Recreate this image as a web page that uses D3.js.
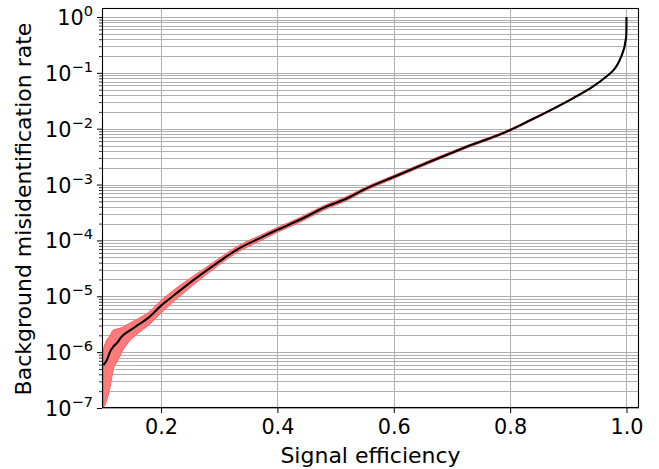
<!DOCTYPE html>
<html>
<head>
<meta charset="utf-8">
<script src="https://cdn.jsdelivr.net/npm/d3@7"></script>
<style>
  html, body { margin: 0; padding: 0; background: #fff; }
  svg { display: block; }
  text { font-family: "DejaVu Sans", sans-serif; fill: #000; }
</style>
</head>
<body>
<svg id="chart" width="659" height="469"></svg>
<script>
// ---- data ----
const efficiency = [0.101, 0.1068, 0.1124, 0.118, 0.124, 0.1325, 0.144, 0.161, 0.178, 0.2, 0.22, 0.2555, 0.2956, 0.33, 0.37, 0.4, 0.4386, 0.4787, 0.5245, 0.5473, 0.6005, 0.6618, 0.719, 0.8009, 0.8336, 0.868, 0.9078, 0.942, 0.965, 0.975, 0.9823, 0.987, 0.991, 0.994, 0.9966, 0.998, 0.9995, 0.9999, 1.0];
const misidRate = [5.9e-7, 7.2e-7, 1.02e-6, 1.26e-6, 1.45e-6, 1.9e-6, 2.35e-6, 3.1e-6, 4.1e-6, 6.8e-6, 1.0e-5, 1.95e-5, 3.9e-5, 6.8e-5, 1.10e-4, 1.55e-4, 2.34e-4, 3.8e-4, 6.0e-4, 8.0e-4, 1.38e-3, 2.57e-3, 4.47e-3, 9.55e-3, 1.40e-2, 2.11e-2, 3.5e-2, 5.65e-2, 8.5e-2, 0.105, 0.129, 0.158, 0.195, 0.24, 0.295, 0.36, 0.447, 0.62, 1.0];
const misidLow  = [1.0e-7, 1.4e-7, 2.4e-7, 5.0e-7, 6.6e-7, 1.0e-6, 1.5e-6, 2.2e-6, 3.0e-6, 5.0e-6, 7.8e-6, 1.6e-5, 3.4e-5, 6.0e-5, 9.8e-5, 1.40e-4, 2.12e-4, 3.45e-4, 5.5e-4, 7.4e-4, 1.29e-3, 2.42e-3, 4.25e-3, 9.15e-3, 1.35e-2, 2.05e-2, 3.42e-2, 5.55e-2, 8.38e-2, 0.1037, 0.1275, 0.1565, 0.1933, 0.238, 0.293, 0.358, 0.445, 0.618, 1.0];
const misidHigh = [1.17e-6, 1.66e-6, 2.0e-6, 2.5e-6, 2.6e-6, 2.75e-6, 3.2e-6, 4.0e-6, 5.1e-6, 8.4e-6, 1.25e-5, 2.3e-5, 4.45e-5, 7.7e-5, 1.23e-4, 1.71e-4, 2.57e-4, 4.15e-4, 6.5e-4, 8.6e-4, 1.47e-3, 2.72e-3, 4.7e-3, 9.95e-3, 1.45e-2, 2.17e-2, 3.58e-2, 5.75e-2, 8.62e-2, 0.1063, 0.1305, 0.1595, 0.1967, 0.242, 0.297, 0.362, 0.449, 0.622, 1.0];
const xTicks = [0.2, 0.4, 0.6, 0.8, 1.0];
const xTickLabels = ["0.2", "0.4", "0.6", "0.8", "1.0"];
const yExponents = [0, -1, -2, -3, -4, -5, -6, -7];
const xLabel = "Signal efficiency";
const yLabel = "Background misidentification rate";

// ---- layout ----
const svg = d3.select("#chart");
const L = 102, R = 639, T = 8, B = 408;
const x = d3.scaleLinear().domain([0.0985, 1.0215]).range([L, R]);
const y = d3.scaleLog().domain([1e-7, Math.pow(10, 0.161)]).range([B, T]);

const rows = efficiency.map((e, i) => ({ e, v: misidRate[i], lo: misidLow[i], hi: misidHigh[i] }));

// minor tick values
const minorVals = [];
for (let p = -7; p <= 0; p++) {
  for (let m = 2; m <= 9; m++) {
    const v = m * Math.pow(10, p);
    if (v <= y.domain()[1]) minorVals.push(v);
  }
}
const majorVals = yExponents.map(p => Math.pow(10, p));

const gridColor = "#b0b0b0";
const grid = svg.append("g");
grid.selectAll("line.ym").data(majorVals.concat(minorVals)).enter().append("line")
  .attr("x1", L).attr("x2", R)
  .attr("y1", d => Math.round(y(d)) + 0.5).attr("y2", d => Math.round(y(d)) + 0.5)
  .attr("stroke", gridColor).attr("stroke-width", 1);
grid.selectAll("line.xg").data(xTicks).enter().append("line")
  .attr("y1", T).attr("y2", B)
  .attr("x1", d => Math.round(x(d)) + 0.5).attr("x2", d => Math.round(x(d)) + 0.5)
  .attr("stroke", gridColor).attr("stroke-width", 1);

svg.append("clipPath").attr("id", "clip").append("rect")
  .attr("x", L).attr("y", T).attr("width", R - L).attr("height", B - T);

const plot = svg.append("g").attr("clip-path", "url(#clip)");
const area = d3.area().curve(d3.curveMonotoneX).x(d => x(d.e)).y0(d => y(d.lo)).y1(d => y(d.hi));
plot.append("path").datum(rows).attr("d", area)
  .attr("fill", "#ff7b7b").attr("stroke", "#ff5e5e").attr("stroke-width", 1);
const line = d3.line().curve(d3.curveMonotoneX).x(d => x(d.e)).y(d => y(d.v));
plot.append("path").datum(rows).attr("d", line)
  .attr("fill", "none").attr("stroke", "#000").attr("stroke-width", 2.1)
  .attr("stroke-linejoin", "round");

svg.append("rect").attr("x", L + 0.5).attr("y", T + 0.5)
  .attr("width", R - L - 1).attr("height", B - T - 1)
  .attr("fill", "none").attr("stroke", "#000").attr("stroke-width", 1.1);

const xAxis = d3.axisBottom(x).tickValues(xTicks).tickSize(5).tickPadding(6)
  .tickFormat((d, i) => xTickLabels[i]);
const gx = svg.append("g").attr("transform", `translate(0,${B})`).call(xAxis);
gx.select(".domain").remove();
gx.selectAll("text").attr("font-size", "20.8px").attr("font-family", "DejaVu Sans").attr("fill", "#000");
gx.selectAll("line").attr("stroke", "#000");

const yAxis = d3.axisLeft(y).tickValues(majorVals).tickSize(5).tickFormat("");
const gy = svg.append("g").attr("transform", `translate(${L},0)`).call(yAxis);
gy.select(".domain").remove();
gy.selectAll("line").attr("stroke", "#000");
const yMinor = d3.axisLeft(y).tickValues(minorVals).tickSize(3).tickFormat("");
const gym = svg.append("g").attr("transform", `translate(${L},0)`).call(yMinor);
gym.select(".domain").remove();
gym.selectAll("line").attr("stroke", "#000").attr("stroke-width", 0.8);

const yl = svg.append("g");
yExponents.forEach(p => {
  const t = yl.append("text")
    .attr("x", L - 9).attr("y", y(Math.pow(10, p)) + 8)
    .attr("text-anchor", "end").attr("font-size", "20.8px");
  t.append("tspan").text("10");
  t.append("tspan").attr("dy", -9).attr("font-size", "14.6px")
    .text(p < 0 ? "\u2212" + Math.abs(p) : String(p));
});

svg.append("text").attr("x", (L + R) / 2).attr("y", 463)
  .attr("text-anchor", "middle").attr("font-size", "22px").text(xLabel);
svg.append("text").attr("transform", `translate(31,${(T + B) / 2 + 1}) rotate(-90)`)
  .attr("text-anchor", "middle").attr("font-size", "22px").text(yLabel);
</script>
</body>
</html>
